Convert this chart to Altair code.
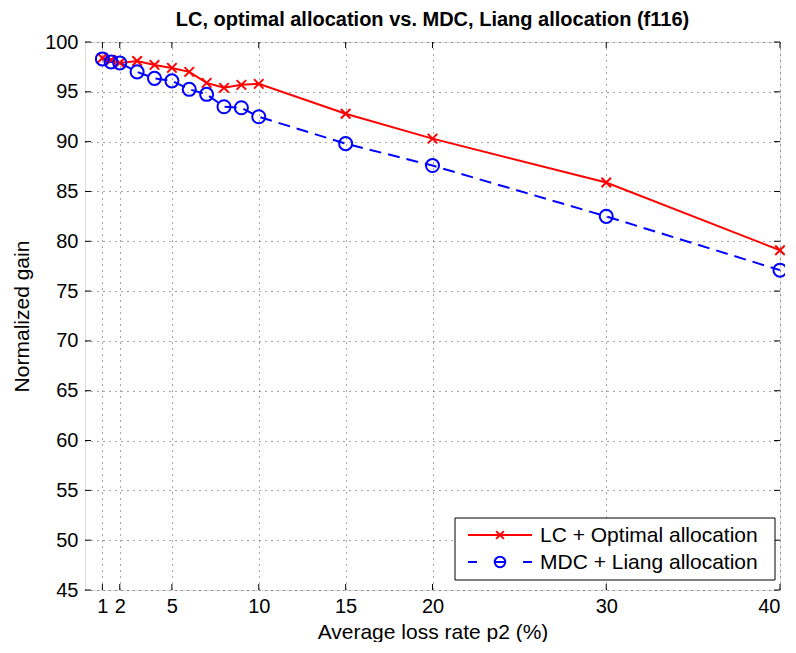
import altair as alt
import pandas as pd

loss_rate = [1, 1.5, 2, 3, 4, 5, 6, 7, 8, 9, 10, 15, 20, 30, 40]
lc_optimal = [98.4, 98.2, 97.9, 98.1, 97.7, 97.4, 97.0, 95.9, 95.4, 95.7, 95.8, 92.8, 90.3, 85.9, 79.1]
mdc_liang = [98.3, 98.0, 97.9, 97.0, 96.35, 96.1, 95.25, 94.75, 93.5, 93.4, 92.5, 89.8, 87.6, 82.5, 77.1]
x_ticks = [1, 2, 5, 10, 15, 20, 30, 40]
y_ticks = [45, 50, 55, 60, 65, 70, 75, 80, 85, 90, 95, 100]
series_names = ["LC + Optimal allocation", "MDC + Liang allocation"]

df_lc = pd.DataFrame({"x": loss_rate, "y": lc_optimal})
df_mdc = pd.DataFrame({"x": loss_rate, "y": mdc_liang})
df_xt = pd.DataFrame({"t": x_ticks})
df_yt = pd.DataFrame({"t": y_ticks})

W, H = 695, 548
FONT = "Liberation Sans"
FS = 21

xs = alt.Scale(domain=[0, 40], nice=False, zero=False)
ys = alt.Scale(domain=[45, 100], nice=False, zero=False)
xax = alt.Axis(values=x_ticks, title="Average loss rate p2 (%)", grid=True,
               gridDash=[1, 5], gridColor="#222222", gridOpacity=0.8,
               domain=False, tickSize=0, labelPadding=6,
               labelFontSize=FS - 1, titleFontSize=FS, titleFontWeight="normal",
               labelFont=FONT, titleFont=FONT, labelColor="black", titleColor="black",
               titlePadding=5)
yax = alt.Axis(values=y_ticks, title="Normalized gain", grid=True,
               gridDash=[1, 5], gridColor="#222222", gridOpacity=0.8,
               domain=False, tickSize=0, labelPadding=7,
               labelFontSize=FS - 1, titleFontSize=FS, titleFontWeight="normal",
               labelFont=FONT, titleFont=FONT, labelColor="black", titleColor="black",
               titlePadding=12)

X_PATH = "M-1,-1L1,1M-1,1L1,-1"

lc_line = alt.Chart(df_lc).mark_line(color="#ff0000", strokeWidth=2).encode(
    x=alt.X("x:Q", scale=xs, axis=xax),
    y=alt.Y("y:Q", scale=ys, axis=yax),
)
lc_pts = alt.Chart(df_lc).mark_point(shape=X_PATH, color="#ff0000", size=90,
                                     strokeWidth=2, filled=False, opacity=1).encode(
    x=alt.X("x:Q", scale=xs), y=alt.Y("y:Q", scale=ys))

mdc_line = alt.Chart(df_mdc).mark_line(color="#0000ff", strokeWidth=2,
                                       strokeDash=[12, 7]).encode(
    x=alt.X("x:Q", scale=xs), y=alt.Y("y:Q", scale=ys))
mdc_pts = alt.Chart(df_mdc).mark_point(shape="circle", color="#0000ff", size=170,
                                       strokeWidth=2, filled=False, opacity=1).encode(
    x=alt.X("x:Q", scale=xs), y=alt.Y("y:Q", scale=ys))

# inward tick marks on all four sides
tk = 6
xt_bottom = alt.Chart(df_xt).mark_rule(color="black", strokeWidth=1).encode(
    x=alt.X("t:Q", scale=xs), y=alt.value(H), y2=alt.value(H - tk))
xt_top = alt.Chart(df_xt).mark_rule(color="black", strokeWidth=1).encode(
    x=alt.X("t:Q", scale=xs), y=alt.value(0), y2=alt.value(tk))
yt_left = alt.Chart(df_yt).mark_rule(color="black", strokeWidth=1).encode(
    y=alt.Y("t:Q", scale=ys), x=alt.value(0), x2=alt.value(tk))
yt_right = alt.Chart(df_yt).mark_rule(color="black", strokeWidth=1).encode(
    y=alt.Y("t:Q", scale=ys), x=alt.value(W), x2=alt.value(W - tk))

# legend (drawn manually, inside lower right)
one = pd.DataFrame({"label": series_names[:1]})
leg_box = alt.Chart(one).mark_rect(fill="white", stroke="black", strokeWidth=1).encode(
    x=alt.value(370), x2=alt.value(690), y=alt.value(476), y2=alt.value(538))
leg_red_line = alt.Chart(one).mark_rule(color="#ff0000", strokeWidth=2).encode(
    x=alt.value(383), x2=alt.value(447), y=alt.value(493))
leg_red_pt = alt.Chart(one).mark_point(shape=X_PATH, color="#ff0000", size=60,
                                       strokeWidth=2, filled=False, opacity=1).encode(
    x=alt.value(415), y=alt.value(493))
leg_blue_line1 = alt.Chart(one).mark_rule(color="#0000ff", strokeWidth=2).encode(
    x=alt.value(383), x2=alt.value(392), y=alt.value(520))
leg_blue_line2 = alt.Chart(one).mark_rule(color="#0000ff", strokeWidth=2).encode(
    x=alt.value(409), x2=alt.value(421), y=alt.value(520))
leg_blue_line3 = alt.Chart(one).mark_rule(color="#0000ff", strokeWidth=2).encode(
    x=alt.value(438), x2=alt.value(447), y=alt.value(520))
leg_blue_pt = alt.Chart(one).mark_point(shape="circle", color="#0000ff", size=110,
                                        strokeWidth=2, filled=False, opacity=1).encode(
    x=alt.value(415), y=alt.value(520))
leg_text1 = alt.Chart(one).mark_text(align="left", baseline="middle", fontSize=FS,
                                     font=FONT, color="black").encode(
    x=alt.value(455), y=alt.value(494), text=alt.value(series_names[0]))
leg_text2 = alt.Chart(one).mark_text(align="left", baseline="middle", fontSize=FS,
                                     font=FONT, color="black").encode(
    x=alt.value(455), y=alt.value(521), text=alt.value(series_names[1]))

chart = alt.layer(
    lc_line, mdc_line, lc_pts, mdc_pts,
    xt_bottom, xt_top, yt_left, yt_right,
    leg_box, leg_red_line, leg_red_pt, leg_blue_line1, leg_blue_line2, leg_blue_line3,
    leg_blue_pt, leg_text1, leg_text2,
).properties(
    width=W, height=H,
    autosize=alt.AutoSizeParams(type="none"),
    padding={"left": 77, "top": 34, "right": 5, "bottom": 52},
    title=alt.TitleParams("LC, optimal allocation vs. MDC, Liang allocation (f116)",
                          font=FONT, fontSize=20, fontWeight="bold", color="black",
                          anchor="middle", offset=2),
).configure_view(stroke="black", strokeWidth=1.2).configure(background="white")

chart.save("out.html", embed_options={"renderer": "svg", "actions": False})
